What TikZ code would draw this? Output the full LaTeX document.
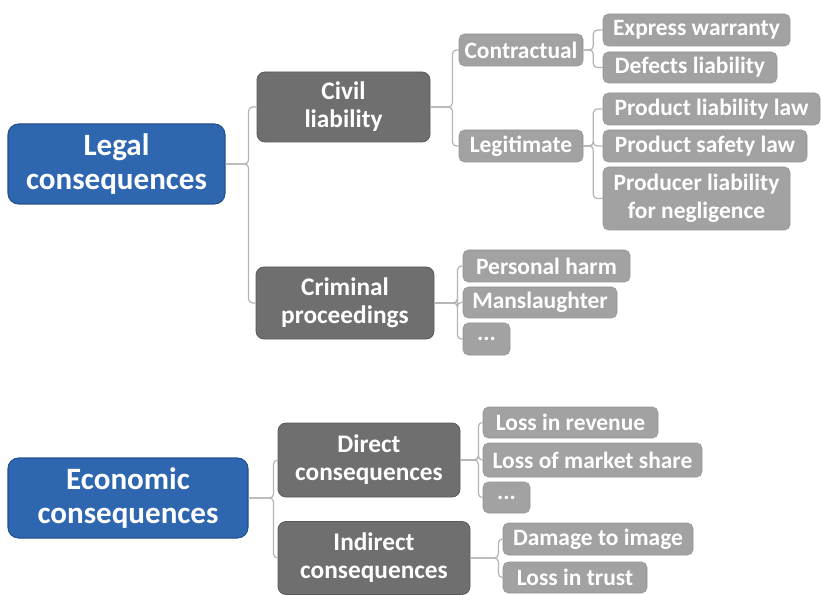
\documentclass[tikz,border=0pt]{standalone}
\usepackage{fontspec}
\setmainfont{Carlito}

\definecolor{rootblue}{HTML}{2E66B0}
\definecolor{rootedge}{HTML}{24508C}
\definecolor{branchgrey}{HTML}{6F6F6F}
\definecolor{leafgrey}{HTML}{A2A2A2}
\definecolor{linkgrey}{HTML}{B4B4B4}

\tikzset{
  box/.style 2 args={rectangle, rounded corners=6pt, align=center, inner sep=0pt,
    text=white, font=\bfseries,
    minimum width=#1*0.75pt, minimum height=#2*0.75pt},
  root/.style={fill=rootblue, draw=rootedge, line width=0.8pt, rounded corners=8pt,
    font=\bfseries\fontsize{23.3}{25}\selectfont},
  branch/.style={fill=branchgrey, draw=branchgrey!80!black, line width=0.6pt,
    font=\bfseries\fontsize{19}{21}\selectfont},
  leaf/.style={fill=leafgrey, draw=leafgrey!90!black, line width=0.4pt, rounded corners=4pt,
    font=\bfseries\fontsize{17.6}{21}\selectfont},
  link/.style={draw=linkgrey, line width=0.9pt, rounded corners=3pt}
}

\begin{document}
\begin{tikzpicture}[x=0.75pt, y=-0.75pt]
  \useasboundingbox (0,0) rectangle (821,595);

  % legal consequences
  \node[box={217}{80}, root]   (legal)       at (116.5,164) {Legal\\consequences};
  \node[box={173}{70}, branch] (civil)       at (343.5,107) {Civil\\liability};
  \node[box={178}{72}, branch] (criminal)    at (345,303)   {Criminal\\proceedings};
  \node[box={124}{32}, leaf]   (contractual) at (521,50)    {Contractual};
  \node[box={124}{32}, leaf]   (legitimate)  at (521,146)   {Legitimate};
  \node[box={187}{32}, leaf]   (express)     at (696.5,30)  {Express warranty};
  \node[box={174}{31}, leaf]   (defects)     at (690,67.5)  {Defects liability};
  \node[box={217}{32}, leaf]   (prodlaw)     at (711.5,109) {Product liability law};
  \node[box={204}{32}, leaf]   (safety)      at (705,146)   {Product safety law};
  \node[box={187}{63}, leaf]   (producer)    at (696.5,198.5) {Producer liability\\for negligence};
  \node[box={167}{32}, leaf]   (harm)        at (546.5,266) {Personal harm};
  \node[box={154}{31}, leaf]   (mansl)       at (540,302.5) {Manslaughter};
  \node[box={47}{32},  leaf]   (moreA)       at (486.5,339) {...};

  % economic consequences
  \node[box={240}{80}, root]   (economic)    at (128,498)   {Economic\\consequences};
  \node[box={182}{74}, branch] (direct)      at (369,460)   {Direct\\consequences};
  \node[box={192}{73}, branch] (indirect)    at (374,558)   {Indirect\\consequences};
  \node[box={175}{31}, leaf]   (revenue)     at (570.5,422.5) {Loss in revenue};
  \node[box={219}{34}, leaf]   (market)      at (592.5,460) {Loss of market share};
  \node[box={47}{31},  leaf]   (moreB)       at (506.5,497.5) {...};
  \node[box={190}{32}, leaf]   (damage)      at (598,539)   {Damage to image};
  \node[box={144}{31}, leaf]   (trust)       at (575,577.5) {Loss in trust};

  % connectors
  \foreach \child in {civil,criminal}
    \draw[link] (legal.east) -- ++(23,0) |- (\child.west);
  \foreach \child in {contractual,legitimate}
    \draw[link] (civil.east) -- ++(22,0) |- (\child.west);
  \foreach \child in {express,defects}
    \draw[link] (contractual.east) -- ++(10,0) |- (\child.west);
  \foreach \child in {prodlaw,safety,producer}
    \draw[link] (legitimate.east) -- ++(10,0) |- (\child.west);
  \foreach \child in {harm,mansl,moreA}
    \draw[link] (criminal.east) -- ++(23,0) |- (\child.west);
  \foreach \child in {direct,indirect}
    \draw[link] (economic.east) -- ++(25,0) |- (\child.west);
  \foreach \child in {revenue,market,moreB}
    \draw[link] (direct.east) -- ++(18,0) |- (\child.west);
  \foreach \child in {damage,trust}
    \draw[link] (indirect.east) -- ++(28,0) |- (\child.west);
\end{tikzpicture}
\end{document}
